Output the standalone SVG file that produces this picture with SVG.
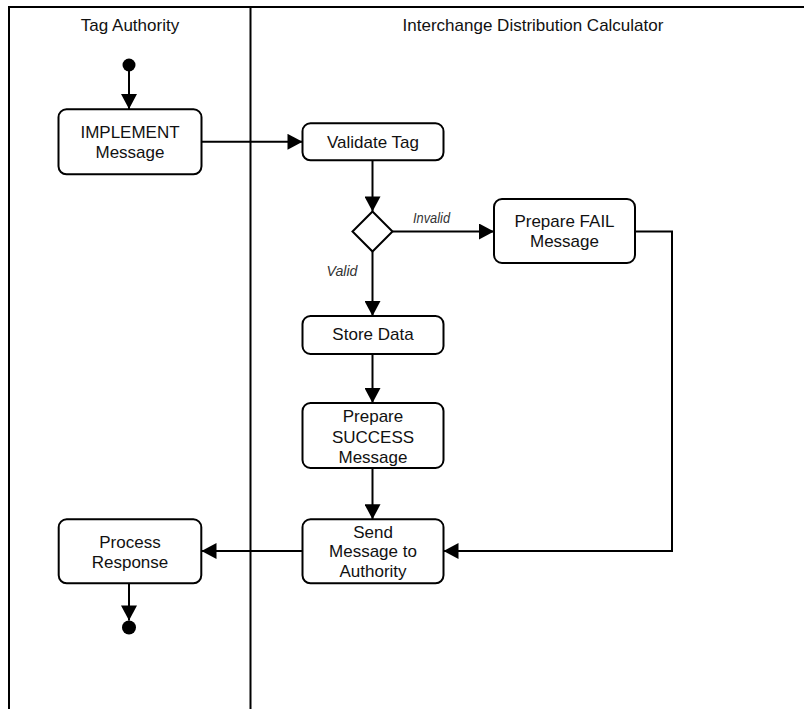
<svg xmlns="http://www.w3.org/2000/svg" width="804" height="709" viewBox="0 0 804 709">
  <defs>
    <marker id="arrow" markerUnits="userSpaceOnUse" markerWidth="16" markerHeight="16" viewBox="0 0 15 16" refX="15" refY="8" orient="auto">
      <path d="M0,0 L15,8 L0,16 Z" fill="#000"/>
    </marker>
  </defs>
  <style>
    .lane { stroke: #000; stroke-width: 2; fill: none; }
    .box { fill: #fff; stroke: #000; stroke-width: 2; }
    .t { font-family: "Liberation Sans", Arial, sans-serif; font-size: 17px; fill: #111; text-anchor: middle; }
    .lbl { font-family: "Liberation Sans", Arial, sans-serif; font-size: 14px; font-style: italic; fill: #333; }
    .conn { stroke: #000; stroke-width: 2; fill: none; marker-end: url(#arrow); }
  </style>
  <rect width="804" height="709" fill="#fff"/>

  <g id="swimlanes">
    <path class="lane" d="M9,709 V7 H804"/>
    <path class="lane" d="M250.5,7 V709"/>
    <text class="t" x="130" y="31">Tag Authority</text>
    <text class="t" x="533" y="31">Interchange Distribution Calculator</text>
  </g>

  <g id="connectors">
    <path class="conn" d="M129,71 V109"/>
    <path class="conn" d="M201.5,141.8 H302.5"/>
    <path class="conn" d="M372.5,160 V211.5"/>
    <path class="conn" d="M392.5,231.5 H494"/>
    <path class="conn" d="M372.5,251.5 V316"/>
    <path class="conn" d="M372.5,354 V403"/>
    <path class="conn" d="M372.5,468 V519.3"/>
    <path class="conn" d="M635,231.5 H672 V551 H443.5"/>
    <path class="conn" d="M302.5,551 H201.5"/>
    <path class="conn" d="M129,583.3 V620.5"/>
    <text class="lbl" x="413" y="223" textLength="37" lengthAdjust="spacingAndGlyphs">Invalid</text>
    <text class="lbl" x="326.5" y="276" textLength="31" lengthAdjust="spacingAndGlyphs">Valid</text>
  </g>

  <g id="start">
    <circle cx="129" cy="65" r="6.5" fill="#000"/>
  </g>

  <g id="implement">
    <rect class="box" x="58.5" y="109.3" width="143" height="65" rx="8"/>
    <text class="t" x="130" y="138.3">IMPLEMENT</text>
    <text class="t" x="130" y="158.3">Message</text>
  </g>

  <g id="validate">
    <rect class="box" x="302.5" y="123.3" width="141" height="37" rx="8"/>
    <text class="t" x="373" y="148.3">Validate Tag</text>
  </g>

  <g id="decision">
    <path class="box" d="M372.5,211.5 L392.5,231.5 L372.5,251.5 L352.5,231.5 Z"/>
  </g>

  <g id="fail">
    <rect class="box" x="494" y="199" width="141" height="64" rx="8"/>
    <text class="t" x="564.5" y="226.7">Prepare FAIL</text>
    <text class="t" x="564.5" y="246.7">Message</text>
  </g>

  <g id="store">
    <rect class="box" x="302.5" y="316" width="141" height="38" rx="8"/>
    <text class="t" x="373" y="340">Store Data</text>
  </g>

  <g id="success">
    <rect class="box" x="302.5" y="403" width="141" height="65" rx="8"/>
    <text class="t" x="373" y="422">Prepare</text>
    <text class="t" x="373" y="442.5">SUCCESS</text>
    <text class="t" x="373" y="463">Message</text>
  </g>

  <g id="send">
    <rect class="box" x="302.5" y="519.3" width="141" height="64" rx="8"/>
    <text class="t" x="373" y="537.7">Send</text>
    <text class="t" x="373" y="557">Message to</text>
    <text class="t" x="373" y="577">Authority</text>
  </g>

  <g id="process">
    <rect class="box" x="58.7" y="519.3" width="142.6" height="64" rx="8"/>
    <text class="t" x="130" y="548.3">Process</text>
    <text class="t" x="130" y="567.7">Response</text>
  </g>

  <g id="end">
    <circle cx="129" cy="627.5" r="7" fill="#000"/>
  </g>
</svg>
